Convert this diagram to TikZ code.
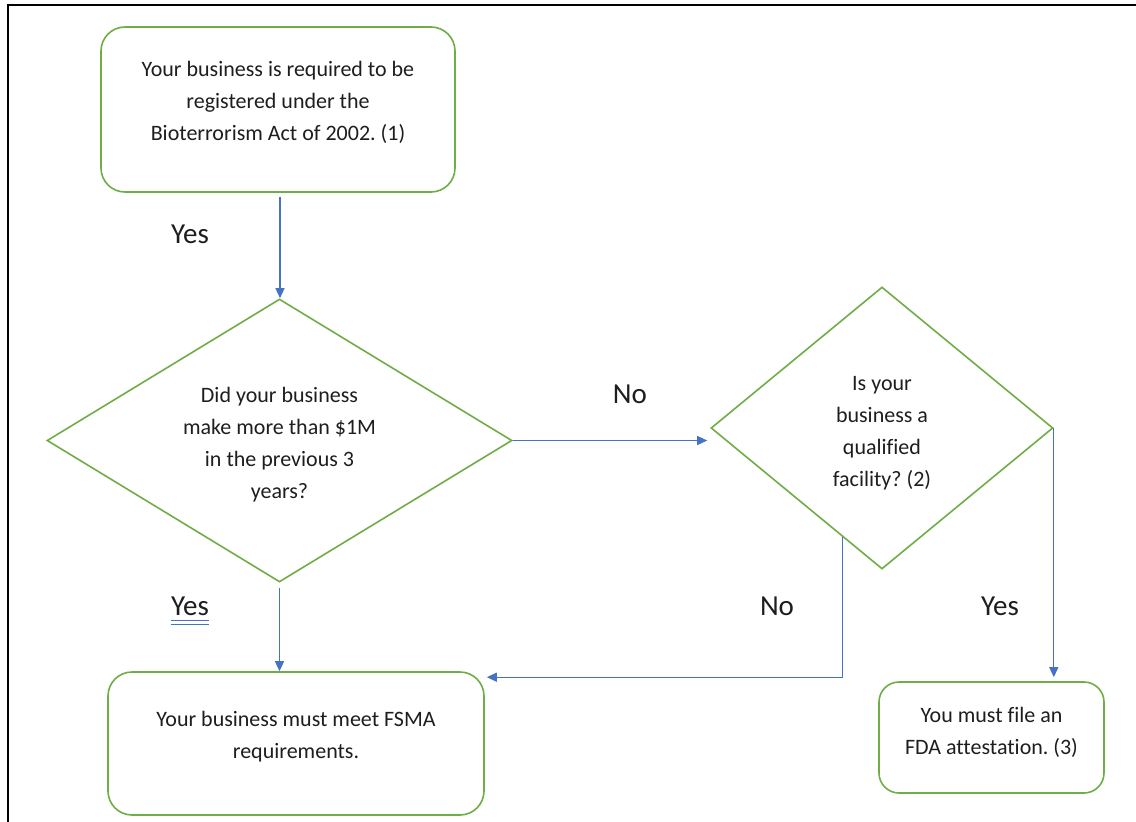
\documentclass[tikz,border=0pt]{standalone}
\usepackage{fontspec}
\setmainfont[Ligatures={NoCommon}]{Carlito}
\usetikzlibrary{shapes.geometric,arrows.meta,calc}
\definecolor{boxgreen}{RGB}{112,173,71}
\definecolor{arrowblue}{RGB}{68,114,196}
\definecolor{ink}{RGB}{30,30,30}
\newcommand{\liftby}[2]{\raisebox{#1}[\height][\depth]{\begin{tabular}{@{}c@{}}#2\end{tabular}}}
\frenchspacing
\begin{document}
\begin{tikzpicture}[x=1pt,y=-1pt,
  box/.style={draw=boxgreen,line width=1.6pt,rounded corners=24pt,align=center,
    font=\fontsize{22}{32}\selectfont,text=ink,inner sep=0pt},
  dec/.style={draw=boxgreen,line width=1.6pt,diamond,align=center,
    font=\fontsize{22}{32}\selectfont,text=ink,inner sep=0pt},
  conn/.style={draw=arrowblue,line width=1.3pt,-{Triangle[length=10pt,width=9pt]}},
  lbl/.style={font=\fontsize{29}{35}\selectfont,text=ink,inner sep=0pt}]
\useasboundingbox (0,0) rectangle (1136,822);
\fill[white] (0,0) rectangle (1136,822);
\draw[line width=2pt] (8,822) -- (8,5) -- (1136,5);

\node[box,minimum width=354pt,minimum height=165pt] (b1) at (278,109.5)
  {\liftby{7pt}{Your business is required to be\\registered under the\\Bioterrorism Act of 2002. (1)}};
\node[dec,shape aspect=1.64,minimum width=465pt,minimum height=283pt] (d1) at (279.5,440.5)
  {\liftby{-4pt}{Did your business\\make more than \$1M\\in the previous 3\\years?}};
\node[dec,shape aspect=1.2,minimum width=342pt,minimum height=282pt] (d2) at (882,428)
  {\liftby{-4pt}{Is your\\business a\\qualified\\facility? (2)}};
\node[box,minimum width=376pt,minimum height=143pt] (b2) at (296,743.5)
  {\liftby{7pt}{Your business must meet FSMA\\requirements.}};
\node[box,rounded corners=20pt,minimum width=225pt,minimum height=111pt] (b3) at (991.5,737.5)
  {\liftby{5pt}{You must file an\\FDA attestation. (3)}};

\coordinate (d2p) at ($(d2.west)!0.77!(d2.south)$);
\coordinate (c1) at ($(d2p)+(0,140)$);
\coordinate (c2) at ([xshift=2pt]b2.east |- c1);

\draw[conn,shorten <=4pt] ([xshift=2pt]b1.south) -- ([xshift=2pt]b1.south |- d1.north);
\draw[conn,shorten >=3pt] (d1.east) -- (d1.east -| d2.west);
\draw[conn,shorten <=5pt] (d1.south) -- (d1.south |- b2.north);
\draw[conn] (d2p) -- (c1) -- (c2);
\draw[conn,shorten >=4pt] (d2.east) -- (d2.east |- b3.north);

\node[lbl] (y1) at (190,234) {Yes};
\node[lbl] (n1) at (630,394) {No};
\node[lbl] (y2) at (190,606) {Yes};
\draw[arrowblue,line width=0.9pt] ([yshift=-5pt]y2.south west) -- ([yshift=-5pt]y2.south east)
  ([yshift=-8.5pt]y2.south west) -- ([yshift=-8.5pt]y2.south east);
\node[lbl] (n2) at (777,606) {No};
\node[lbl] (y3) at (1000,606) {Yes};
\end{tikzpicture}
\end{document}
